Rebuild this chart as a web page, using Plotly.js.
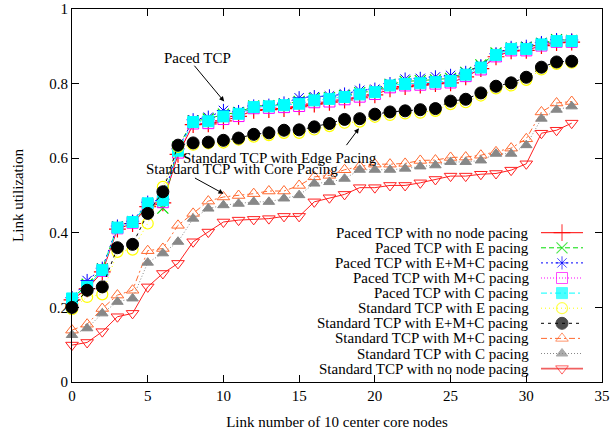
<!DOCTYPE html>
<html>
<head>
<meta charset="utf-8">
<script src="https://cdn.plot.ly/plotly-3.0.1.min.js"></script>
<style>html,body{margin:0;padding:0;background:#fff;}#chart{width:613px;height:435px;}</style>
</head>
<body>
<div id="chart"></div>
<script>
// ---- data (x = link number 0..33) ----
var linkNumbers = [0,1,2,3,4,5,6,7,8,9,10,11,12,13,14,15,16,17,18,19,20,21,22,23,24,25,26,27,28,29,30,31,32,33];

var pacedNone = [0.220,0.250,0.295,0.410,0.425,0.470,0.480,0.610,0.690,0.692,0.700,0.712,0.728,0.730,0.733,0.738,0.745,0.750,0.756,0.762,0.770,0.786,0.792,0.796,0.800,0.802,0.818,0.840,0.872,0.888,0.889,0.902,0.910,0.911];
var pacedE    = [0.222,0.262,0.303,0.416,0.430,0.475,0.466,0.630,0.700,0.705,0.718,0.722,0.740,0.741,0.745,0.752,0.760,0.762,0.768,0.776,0.780,0.798,0.806,0.808,0.810,0.814,0.830,0.850,0.882,0.895,0.897,0.908,0.918,0.916];
var pacedEMC  = [0.226,0.272,0.305,0.418,0.431,0.482,0.490,0.625,0.703,0.710,0.728,0.725,0.740,0.742,0.748,0.762,0.765,0.767,0.772,0.782,0.785,0.800,0.812,0.814,0.818,0.822,0.830,0.848,0.880,0.897,0.900,0.910,0.918,0.917];
var pacedMC   = [0.220,0.255,0.298,0.412,0.427,0.476,0.482,0.615,0.693,0.694,0.705,0.713,0.734,0.735,0.737,0.740,0.750,0.752,0.758,0.765,0.772,0.790,0.795,0.797,0.800,0.803,0.820,0.838,0.873,0.889,0.889,0.902,0.912,0.912];
var pacedC    = [0.224,0.255,0.300,0.414,0.429,0.479,0.487,0.620,0.697,0.699,0.712,0.719,0.737,0.739,0.742,0.746,0.755,0.759,0.764,0.771,0.777,0.795,0.799,0.801,0.804,0.807,0.824,0.843,0.877,0.893,0.893,0.905,0.914,0.914];
var stdE      = [0.195,0.228,0.235,0.349,0.355,0.425,0.523,0.630,0.636,0.640,0.642,0.650,0.658,0.662,0.668,0.668,0.677,0.686,0.695,0.698,0.711,0.716,0.720,0.722,0.727,0.745,0.750,0.768,0.787,0.795,0.810,0.838,0.853,0.856];
var stdEMC    = [0.200,0.246,0.255,0.360,0.369,0.452,0.510,0.635,0.641,0.643,0.648,0.654,0.664,0.668,0.675,0.676,0.684,0.693,0.704,0.706,0.718,0.724,0.727,0.730,0.733,0.753,0.758,0.775,0.793,0.802,0.817,0.844,0.858,0.860];
var stdMC     = [0.139,0.155,0.197,0.233,0.246,0.352,0.358,0.420,0.452,0.485,0.496,0.500,0.505,0.512,0.512,0.527,0.550,0.554,0.569,0.578,0.584,0.584,0.586,0.594,0.595,0.602,0.603,0.608,0.617,0.627,0.652,0.724,0.748,0.752];
var stdC      = [0.126,0.144,0.184,0.215,0.224,0.320,0.345,0.376,0.438,0.465,0.474,0.478,0.483,0.483,0.492,0.501,0.532,0.536,0.545,0.569,0.569,0.569,0.572,0.578,0.581,0.590,0.590,0.594,0.612,0.612,0.635,0.706,0.730,0.739];
var stdNone   = [0.099,0.106,0.135,0.175,0.184,0.255,0.291,0.318,0.376,0.402,0.429,0.434,0.436,0.438,0.444,0.444,0.483,0.494,0.503,0.521,0.521,0.527,0.527,0.534,0.543,0.552,0.552,0.557,0.559,0.568,0.585,0.667,0.675,0.694];

var seriesNames = [
  "Paced TCP with no node pacing",
  "Paced TCP with E pacing",
  "Paced TCP with E+M+C pacing",
  "Paced TCP with M+C pacing",
  "Paced TCP with C pacing",
  "Standard TCP with E pacing",
  "Standard TCP with E+M+C pacing",
  "Standard TCP with M+C pacing",
  "Standard TCP with C pacing",
  "Standard TCP with no node pacing"
];
var seriesValues = [pacedNone, pacedE, pacedEMC, pacedMC, pacedC, stdE, stdEMC, stdMC, stdC, stdNone];

var xTicks = [0,5,10,15,20,25,30,35];
var yTicks = [0,0.2,0.4,0.6,0.8,1];

// ---- styles ----
var styles = [
  {color:'#ff0000', dash:'solid',   symbol:'cross-thin-open',   size:12, lw:1.2},
  {color:'#00dd00', dash:'5px,3px', symbol:'x-thin-open',       size:11, lw:1.2},
  {color:'#0000ff', dash:'2px,3px', symbol:'asterisk-open',     size:11, lw:1.0},
  {color:'#ff00ff', dash:'1px,2px', symbol:'square-open',       size:11, lw:1.0},
  {color:'#00ffff', dash:'6px,3px,2px,3px', symbol:'square',    size:11, lw:1.0},
  {color:'#ffff00', dash:'1px,3px', symbol:'circle-open',       size:11, lw:1.2},
  {color:'#000000', dash:'3px,4px', symbol:'circle',            size:12, lw:1.0},
  {color:'#ff6a30', dash:'6px,3px,2px,3px', symbol:'triangle-up-open', size:11, lw:1.0},
  {color:'#888888', dash:'1px,2px', symbol:'triangle-up',       size:10, lw:1.0},
  {color:'#ff2020', dash:'solid',   symbol:'triangle-down-open', size:11, lw:1.0}
];

var traces = [];
seriesValues.forEach(function(vals, i){
  var s = styles[i];
  traces.push({
    x: linkNumbers, y: vals, name: seriesNames[i],
    type:'scatter', mode:'lines+markers', cliponaxis:false, showlegend:false,
    line:{color:s.color, width:1, dash:s.dash},
    marker:{symbol:s.symbol, size:s.size, color:s.color, line:{color:s.color, width:s.lw}}
  });
});

// ---- manual gnuplot-style legend (text right, sample on right) ----
var plotL = 72, plotR = 602, plotT = 9, plotB = 382;
function px2paperX(px){ return (px - plotL) / (plotR - plotL); }
function px2paperY(py){ return (plotB - py) / (plotB - plotT); }
var legTextX = px2paperX(531);
var legLineA = px2paperX(541), legLineB = px2paperX(583), legMark = px2paperX(562);
var annotations = [];
seriesNames.forEach(function(nm, i){
  var py = 232.7 + 15.1 * i;
  var yy = px2paperY(py);
  annotations.push({xref:'paper', yref:'paper', x:legTextX, y:yy, xanchor:'right', yanchor:'middle',
    text:nm, showarrow:false, font:{size:15, color:'#000'}});
  var s = styles[i];
  traces.push({
    x:[legLineA, legMark, legLineB], y:[yy, yy, yy], xaxis:'x2', yaxis:'y2',
    type:'scatter', mode:'lines+markers', cliponaxis:false, showlegend:false, hoverinfo:'skip',
    line:{color:(i===9?'#f06060':s.color), width:(i===9?1.8:1), dash:s.dash},
    marker:{symbol:s.symbol, size:[0, s.size, 0], color:s.color, line:{color:s.color, width:s.lw}}
  });
});

// ---- text annotations with arrows ----
var arrowStyle = {arrowhead:2, arrowsize:1, arrowwidth:1, arrowcolor:'#000', showarrow:true};
annotations.push({x:8.27, y:0.869, text:'Paced TCP', showarrow:false, font:{size:15}});
annotations.push(Object.assign({x:10.05, y:0.752, ax:8.0, ay:0.852, axref:'x', ayref:'y', text:''}, arrowStyle));
annotations.push({x:13.75, y:0.601, text:'Standard TCP with Edge Pacing', showarrow:false, font:{size:15}});
annotations.push({x:11.25, y:0.570, text:'Standard TCP with Core Pacing', showarrow:false, font:{size:15}});
annotations.push(Object.assign({x:18.95, y:0.680, ax:18.05, ay:0.631, axref:'x', ayref:'y', text:''}, arrowStyle));
annotations.push(Object.assign({x:10.0, y:0.505, ax:8.02, ay:0.549, axref:'x', ayref:'y', text:''}, arrowStyle));

var axisCommon = {
  showline:true, linecolor:'#000', linewidth:1, mirror:'ticks',
  ticks:'inside', ticklen:7, tickwidth:1, tickcolor:'#000',
  showgrid:false, zeroline:false, tickfont:{size:15, color:'#000'}
};

var layout = {
  width:613, height:435,
  margin:{l:plotL, r:613-plotR, t:plotT, b:435-plotB},
  paper_bgcolor:'#fff', plot_bgcolor:'#fff',
  font:{family:'"Liberation Serif", "Times New Roman", serif', size:15, color:'#000'},
  showlegend:false,
  xaxis:Object.assign({}, axisCommon, {range:[0,35], tickvals:xTicks, ticktext:xTicks.map(String),
    title:{text:'Link number of 10 center core nodes', font:{size:15}, standoff:13}}),
  yaxis:Object.assign({}, axisCommon, {range:[0,1], tickvals:yTicks, ticktext:yTicks.map(String),
    title:{text:'Link utilization', font:{size:15}, standoff:22}}),
  xaxis2:{overlaying:'x', range:[0,1], visible:false, fixedrange:true},
  yaxis2:{overlaying:'y', range:[0,1], visible:false, fixedrange:true},
  annotations:annotations
};

Plotly.newPlot('chart', traces, layout, {displayModeBar:false, staticPlot:true});
</script>
</body>
</html>
